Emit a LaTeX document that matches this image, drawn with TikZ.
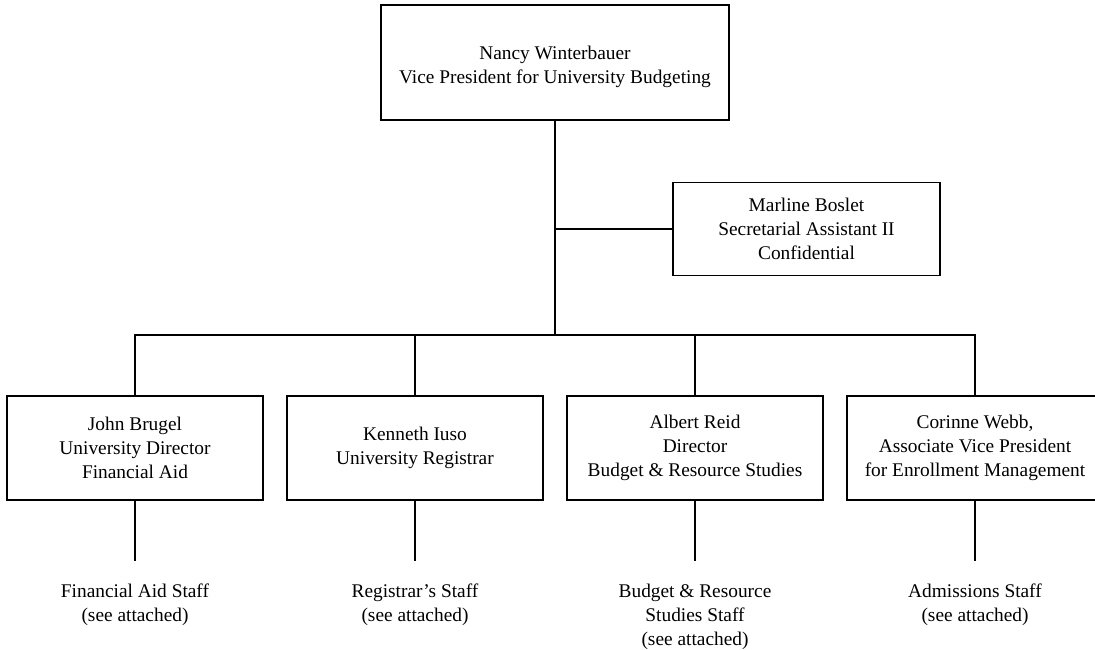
\documentclass[tikz,border=0pt]{standalone}
\usepackage{fontspec}
\setmainfont{Liberation Serif}
\begin{document}
\begin{tikzpicture}[x=1pt,y=-1pt,
  txt/.style={font=\fontsize{19.36}{24}\selectfont, align=center, inner sep=0pt},
  frame/.style={draw, line width=1.3pt},
  unit/.style={txt, frame, minimum width=256, minimum height=104},
  link/.style={line width=1.3pt},
]
\useasboundingbox (0,0) rectangle (1095,650);
\clip (0,0) rectangle (1095,650);

% top of the chart: box with its title set a little below the middle
\node[frame, inner sep=0pt, minimum width=348, minimum height=115] (nancy) at (555,62.5) {};
\node[txt] (nancy-title) at (555,66.5)
  {Nancy Winterbauer\\Vice President for University Budgeting};
\node[txt, frame, minimum width=267, minimum height=93] (marline) at (806.5,229)
  {Marline Boslet\\Secretarial Assistant II\\Confidential};

% department heads
\node[unit] (john)    at (135,448) {John Brugel\\University Director\\Financial Aid};
\node[unit] (kenneth) at (415,448) {Kenneth Iuso\\University Registrar};
\node[unit] (albert)  at (695,448) {Albert Reid\\Director\\Budget \& Resource Studies};
\node[unit] (corinne) at (975,448) {Corinne Webb,\\Associate Vice President\\for Enrollment Management};

% staff groups
\node[txt, anchor=north] (fa)  at (135,584) {Financial Aid Staff\\(see attached)};
\node[txt, anchor=north] (reg) at (415,584) {Registrar's Staff\\(see attached)};
\node[txt, anchor=north] (brs) at (695,584) {Budget \& Resource\\Studies Staff\\(see attached)};
\node[txt, anchor=north] (adm) at (975,584) {Admissions Staff\\(see attached)};

% connectors
\coordinate (bus) at (555,335);
\draw[link] (nancy.south) -- (bus);
\draw[link] (marline.west) -- (marline.west -| nancy.south);
\draw[link] (john.north) |- (bus) -| (corinne.north);
\draw[link] (kenneth.north) -- (kenneth.north |- bus);
\draw[link] (albert.north) -- (albert.north |- bus);

\coordinate (fa-end)  at (135,561);
\coordinate (reg-end) at (415,561);
\coordinate (brs-end) at (695,561);
\coordinate (adm-end) at (975,561);
\draw[link] (john.south) -- (fa-end);
\draw[link] (kenneth.south) -- (reg-end);
\draw[link] (albert.south) -- (brs-end);
\draw[link] (corinne.south) -- (adm-end);
\end{tikzpicture}
\end{document}
